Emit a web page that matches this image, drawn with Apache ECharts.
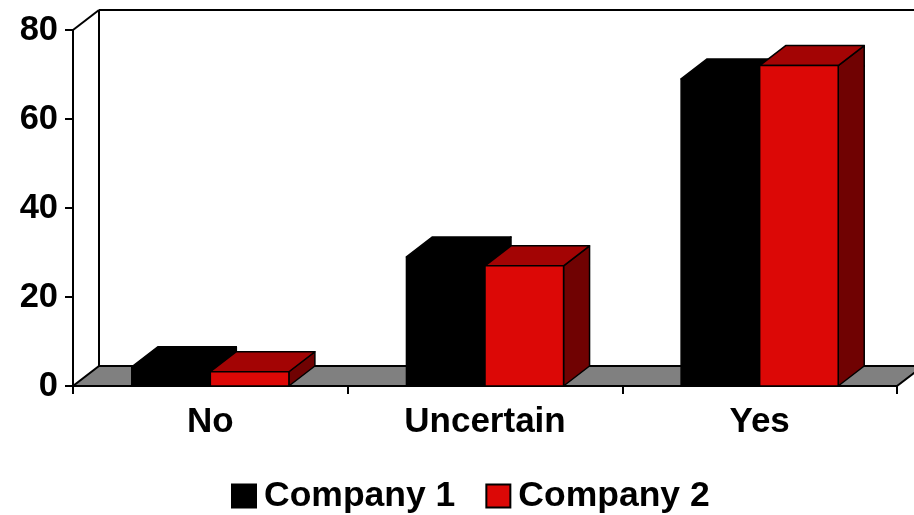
<!DOCTYPE html>
<html>
<head>
<meta charset="utf-8">
<script src="https://cdn.jsdelivr.net/npm/echarts@6/dist/echarts.min.js"></script>
<style>html,body{margin:0;padding:0;background:#fff}#c{width:914px;height:515px}</style>
</head>
<body>
<div id="c"></div>
<script>
const categories = ['No', 'Uncertain', 'Yes'];
const company1 = [4.3, 29, 69];
const company2 = [3.2, 27, 72];
const seriesNames = ['Company 1', 'Company 2'];
const yMin = 0, yMax = 80, yInterval = 20;

const DX = 26, DY = -20;          // 3D depth offset (pixels)
const FONT = "'Liberation Sans', Arial, sans-serif";
const LINE = '#000';

const palettes = [
  { front: '#000000', top: '#000000', side: '#000000' },
  { front: '#dc0806', top: '#a30404', side: '#700202' }
];

function frameRender(params, api) {
  const cs = params.coordSys;
  const x0 = cs.x, x1 = cs.x + cs.width, yT = cs.y, yB = cs.y + cs.height;
  const lw = 2;
  return {
    type: 'group',
    children: [
      { type: 'polygon', shape: { points: [[x0, yB], [x1, yB], [x1 + DX, yB + DY], [x0 + DX, yB + DY]] },
        style: { fill: '#808080', stroke: LINE, lineWidth: lw } },
      { type: 'line', shape: { x1: x0 + DX, y1: yB + DY, x2: x0 + DX, y2: yT + DY }, style: { stroke: LINE, lineWidth: lw } },
      { type: 'line', shape: { x1: x0 + DX, y1: yT + DY, x2: x1 + DX, y2: yT + DY }, style: { stroke: LINE, lineWidth: lw } },
      { type: 'line', shape: { x1: x0, y1: yT, x2: x0 + DX, y2: yT + DY }, style: { stroke: LINE, lineWidth: lw } }
    ]
  };
}

function makeBarRender(idx) {
  const pal = palettes[idx];
  return function (params, api) {
    const cat = api.value(0), val = api.value(1);
    const top = api.coord([cat, val]);
    const base = api.coord([cat, 0]);
    const band = api.size([1, 0])[0];
    const w = band * 0.286;
    const xa = idx === 0 ? top[0] - w : top[0];
    const xb = xa + w;
    const yt = top[1], yb = base[1];
    const st = { stroke: LINE, lineWidth: 1.5, lineJoin: 'round' };
    return {
      type: 'group',
      children: [
        { type: 'polygon', shape: { points: [[xb, yt], [xb + DX, yt + DY], [xb + DX, yb + DY], [xb, yb]] },
          style: Object.assign({ fill: pal.side }, st) },
        { type: 'polygon', shape: { points: [[xa, yt], [xa + DX, yt + DY], [xb + DX, yt + DY], [xb, yt]] },
          style: Object.assign({ fill: pal.top }, st) },
        { type: 'rect', shape: { x: xa, y: yt, width: w, height: yb - yt },
          style: Object.assign({ fill: pal.front }, st) }
      ]
    };
  };
}

const chart = echarts.init(document.getElementById('c'), null, { renderer: 'canvas' });
chart.setOption({
  animation: false,
  backgroundColor: '#fff',
  grid: { left: 73, top: 30, right: 17, bottom: 129, containLabel: false },
  legend: {
    data: seriesNames,
    bottom: -4,
    left: 226,
    icon: 'rect',
    itemWidth: 24,
    itemHeight: 23,
    itemGap: 30,
    textStyle: { fontFamily: FONT, fontSize: 35.5, fontWeight: 'bold', color: '#000', padding: [0, 0, 0, 3] }
  },
  xAxis: {
    type: 'category',
    data: categories,
    boundaryGap: true,
    axisLine: { show: true, lineStyle: { color: '#000', width: 2 } },
    axisTick: { show: true, length: 8, lineStyle: { color: '#000', width: 2 } },
    axisLabel: { margin: 19, fontFamily: FONT, fontSize: 35, fontWeight: 'bold', color: '#000' },
    splitLine: { show: false }
  },
  yAxis: {
    type: 'value',
    min: yMin, max: yMax, interval: yInterval,
    axisLine: { show: true, lineStyle: { color: '#000', width: 2 } },
    axisTick: { show: true, length: 8, lineStyle: { color: '#000', width: 2 } },
    axisLabel: { margin: 15, fontFamily: FONT, fontSize: 34.5, fontWeight: 'bold', color: '#000' },
    splitLine: { show: false }
  },
  series: [
    { type: 'custom', name: '_frame', z: 1, silent: true, clip: false,
      renderItem: frameRender, data: [[0, 0]] },
    { type: 'custom', name: seriesNames[0], z: 3, clip: false,
      itemStyle: { color: palettes[0].front, borderColor: '#000', borderWidth: 1 },
      renderItem: makeBarRender(0),
      data: company1.map((v, i) => [i, v]) },
    { type: 'custom', name: seriesNames[1], z: 4, clip: false,
      itemStyle: { color: palettes[1].front, borderColor: '#000', borderWidth: 1 },
      renderItem: makeBarRender(1),
      data: company2.map((v, i) => [i, v]) }
  ]
});
</script>
</body>
</html>
